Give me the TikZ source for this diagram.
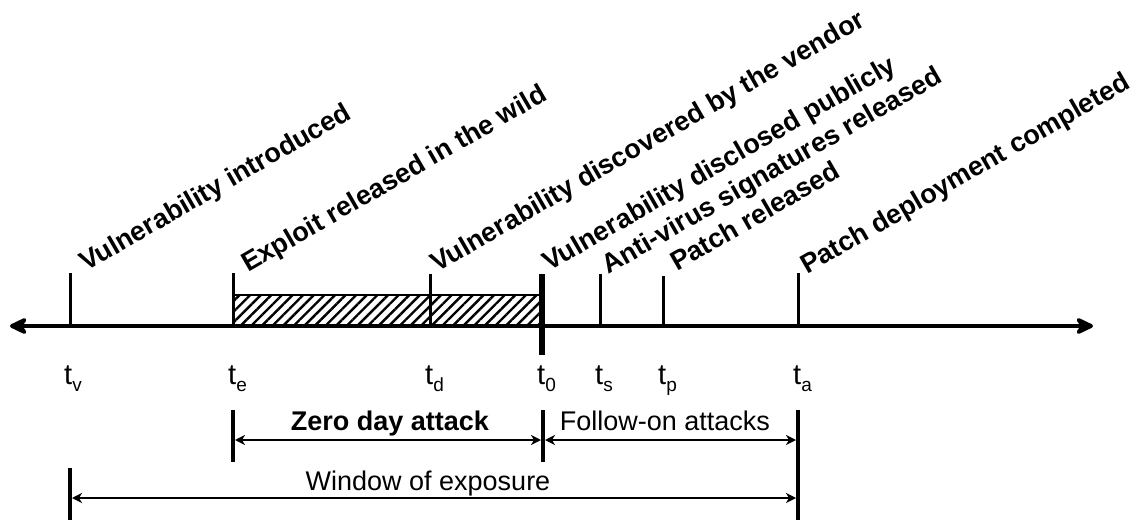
\documentclass[tikz,border=0pt]{standalone}
\usepackage{fontspec}
\setmainfont{Liberation Sans}
\usetikzlibrary{arrows.meta,patterns.meta}

\begin{document}
\begin{tikzpicture}[x=1pt,y=-1pt,
  axisline/.style={line width=4pt,
    {Stealth[length=22pt,width=21pt,inset=7pt,round]}-{Stealth[length=22pt,width=21pt,inset=7pt,round]}},
  tickline/.style={line width=3pt},
  zeroline/.style={line width=6pt},
  barline/.style={line width=4pt},
  spanline/.style={line width=1.6pt, shorten <=2pt, shorten >=2pt,
    {Stealth[length=10pt,width=10pt,inset=3pt]}-{Stealth[length=10pt,width=10pt,inset=3pt]}},
  evlabel/.style={font=\fontsize{27}{29}\selectfont\bfseries, rotate=30,
    anchor=base west, inner sep=0pt},
  tlabel/.style={font=\fontsize{29}{31}\selectfont, anchor=base west, inner sep=0pt},
  spanlabel/.style={font=\fontsize{27}{29}\selectfont, anchor=base, inner sep=0pt},
]
\newcommand{\tsub}[1]{t\raisebox{-7pt}{\fontsize{19}{19}\selectfont #1}}

\useasboundingbox (0,0) rectangle (1133,524);

% main time axis
\coordinate (axL) at (10,326);
\coordinate (axR) at (1093,326);

% tick positions (top and foot on the axis)
\coordinate (vTop) at (70,273);   \coordinate (vFoot) at (70,326);
\coordinate (eTop) at (233,273);  \coordinate (eFoot) at (233,326);
\coordinate (dTop) at (430,274);  \coordinate (dFoot) at (430,326);
\coordinate (zTop) at (542,274);  \coordinate (zFoot) at (542,355);
\coordinate (sTop) at (600,274);  \coordinate (sFoot) at (600,326);
\coordinate (pTop) at (663,276);  \coordinate (pFoot) at (663,326);
\coordinate (aTop) at (798,273);  \coordinate (aFoot) at (798,326);

% hatched zero-day interval
\coordinate (hatchA) at (233,295);
\coordinate (hatchB) at (542,326);
\draw[line width=2pt, pattern={Lines[angle=45,distance=7.5pt,line width=2.4pt]}]
  (hatchA) rectangle (hatchB);

\draw[axisline] (axL) -- (axR);

\draw[tickline] (vTop) -- (vFoot);
\draw[tickline] (eTop) -- (eFoot);
\draw[tickline] (dTop) -- (dFoot);
\draw[zeroline] (zTop) -- (zFoot);
\draw[tickline] (sTop) -- (sFoot);
\draw[tickline] (pTop) -- (pFoot);
\draw[tickline] (aTop) -- (aFoot);

% event labels
\node[evlabel] (lv) at (86,272) {Vulnerability introduced};
\node[evlabel] (le) at (248,273) {Exploit released in the wild};
\node[evlabel] (ld) at (437,273) {Vulnerability discovered by the vendor};
\node[evlabel] (lz) at (549,272) {Vulnerability disclosed publicly};
\node[evlabel] (ls) at (608,275) {Anti-virus signatures released};
\node[evlabel] (lp) at (677,272) {Patch released};
\node[evlabel] (la) at (807,275) {Patch deployment completed};

% time symbols
\node[tlabel] (tv) at (64,384) {\tsub{v}};
\node[tlabel] (te) at (228,384) {\tsub{e}};
\node[tlabel] (td) at (425,384) {\tsub{d}};
\node[tlabel] (t0) at (537,384) {\tsub{0}};
\node[tlabel] (ts) at (595,384) {\tsub{s}};
\node[tlabel] (tp) at (658,384) {\tsub{p}};
\node[tlabel] (ta) at (793,384) {\tsub{a}};

% interval bars below the axis
\coordinate (b1T) at (233,410); \coordinate (b1B) at (233,462);
\coordinate (b2T) at (543,410); \coordinate (b2B) at (543,462);
\coordinate (b3T) at (798,410); \coordinate (b3B) at (798,520);
\coordinate (b4T) at (70,468);  \coordinate (b4B) at (70,520);
\draw[barline] (b1T) -- (b1B);
\draw[barline] (b2T) -- (b2B);
\draw[barline] (b3T) -- (b3B);
\draw[barline] (b4T) -- (b4B);

\coordinate (zdL) at (233,440);
\coordinate (zdR) at (543,440);
\coordinate (foR) at (798,440);
\coordinate (wiL) at (70,498);
\coordinate (wiR) at (798,498);
\draw[spanline] (zdL) -- (zdR);
\draw[spanline] (zdR) -- (foR);
\draw[spanline] (wiL) -- (wiR);

\node[spanlabel, font=\fontsize{27}{29}\selectfont\bfseries] (zlab) at (390,430) {Zero day attack};
\node[spanlabel] (flab) at (665,430) {Follow-on attacks};
\node[spanlabel] (wlab) at (428,490) {Window of exposure};
\end{tikzpicture}
\end{document}
